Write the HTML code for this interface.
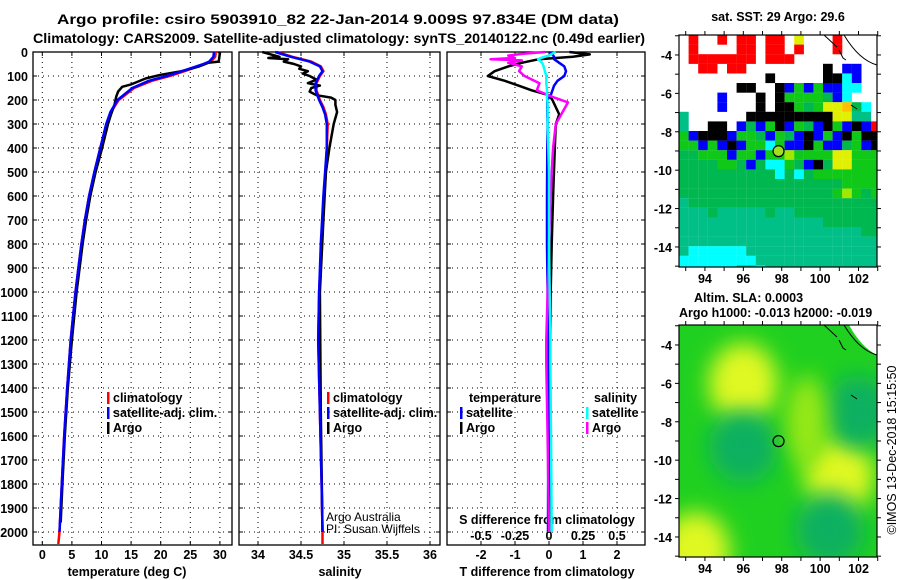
<!DOCTYPE html>
<html><head><meta charset="utf-8"><style>
html,body{margin:0;padding:0;background:#fff;width:900px;height:580px;overflow:hidden}
svg{display:block;font-family:"Liberation Sans",sans-serif}
.b{font-weight:bold;font-size:12.5px}
</style></head><body>
<svg id="c" width="900" height="580" viewBox="0 0 900 580">
<text x="338" y="24" text-anchor="middle" class="b" style="font-size:14px" textLength="562" lengthAdjust="spacingAndGlyphs">Argo profile: csiro 5903910_82 22-Jan-2014 9.009S 97.834E (DM data)</text>
<text x="339" y="43" text-anchor="middle" class="b" style="font-size:14px" textLength="612" lengthAdjust="spacingAndGlyphs">Climatology: CARS2009. Satellite-adjusted climatology: synTS_20140122.nc (0.49d earlier)</text>
<text x="127" y="576" text-anchor="middle" class="b">temperature (deg C)</text>
<text x="340" y="576" text-anchor="middle" class="b">salinity</text>
<text x="547" y="576" text-anchor="middle" class="b">T difference from climatology</text>
<text x="547" y="524" text-anchor="middle" class="b">S difference from climatology</text>
<text x="326" y="521" style="font-size:12px">Argo Australia</text>
<text x="326" y="533" style="font-size:12px">PI: Susan Wijffels</text>
<text x="778" y="21" text-anchor="middle" class="b">sat. SST: 29 Argo: 29.6</text>
<text x="694" y="302" class="b">Altim. SLA: 0.0003</text>
<text x="679" y="317" class="b">Argo h1000: -0.013 h2000: -0.019</text>
<text transform="translate(896,450) rotate(-90)" text-anchor="middle" style="font-size:12.5px">©IMOS 13-Dec-2018 15:15:50</text>
</svg>
<script>
const depthT=[0,20,40,50,60,80,100,120,150,200,250,300,400,500,600,700,800,900,1000,1200,1400,1600,1800,2000,2050];
const climT=[29.3,29.2,28.5,27.5,26.3,24,21.5,18.5,15.5,12.9,11.6,10.9,9.8,8.8,7.9,7.2,6.6,6.1,5.6,4.8,4.2,3.7,3.3,2.9,2.7];
const satT=[29.0,28.9,28.2,27.2,26,23.6,21,18,15.2,12.7,11.5,10.8,9.8,8.8,7.9,7.2,6.6,6.1,5.6,4.8,4.2,3.7,3.3,2.9];
const argoTd=[0,5,40,45,60,80,95,110,125,135,145,165,185,220,260,300,400,500,600,700,800,1000,1200,1400,1600,1800,1960];
const argoT=[29.8,30,29.8,28,26.5,23.5,20,17.5,16,15,13.5,12.8,12.5,12.2,11.6,11.1,10.1,9,8.1,7.4,6.8,5.8,5,4.3,3.8,3.4,3.1];
const depthS=[0,20,40,60,80,100,130,160,200,230,260,300,400,500,600,800,1000,1200,1500,1800,2000,2050];
const climS=[34.22,34.4,34.62,34.73,34.76,34.72,34.68,34.68,34.72,34.76,34.79,34.81,34.8,34.79,34.77,34.74,34.71,34.7,34.72,34.74,34.75,34.75];
const satS=[34.2,34.38,34.6,34.72,34.75,34.71,34.67,34.67,34.71,34.75,34.78,34.8,34.8,34.78,34.76,34.73,34.71,34.7,34.72,34.74,34.75];
const argoSd=[0,10,20,25,30,40,50,60,70,80,90,100,115,130,140,150,165,180,190,200,220,250,300,400,500,700,1000,1500,2000];
const argoS=[34.05,34.15,34.25,34.12,34.35,34.3,34.42,34.5,34.48,34.58,34.52,34.6,34.68,34.58,34.72,34.62,34.6,34.68,34.85,34.9,34.9,34.92,34.88,34.83,34.79,34.76,34.72,34.73,34.75];
const tdD=[0,10,20,30,45,60,80,100,120,140,160,180,200,230,260,300,400,600,800,1000,1500,2000];
const argoTdiff=[0.6,1.2,0.7,-0.3,-0.8,-1.2,-1.6,-1.8,-1.3,-0.9,-0.5,0,0.1,0.2,0.3,0.2,0.17,0.12,0.08,0.05,0.02,0];
const satTdiff=[0,0.1,0.15,0.15,0.3,0.45,0.5,0.45,0.25,0.15,0.1,0.05,-0.05,-0.05,-0.05,-0.04,-0.05,-0.06,-0.06,-0.04,-0.02,-0.03];
const sdD=[0,8,15,25,30,35,45,60,80,100,130,160,190,210,250,300,400,500,800,1200,1300,1600,2000];
const argoSdiff=[-0.03,-0.2,-0.3,-0.25,-0.43,-0.2,-0.3,-0.2,-0.22,-0.18,-0.07,-0.09,0.04,0.14,0.1,0.05,0.03,0.02,0.0,-0.02,-0.02,-0.01,0];
const satSdiff=[0.05,0.02,0,-0.06,-0.08,-0.07,-0.05,-0.04,-0.03,-0.02,-0.02,-0.015,-0.015,-0.01,-0.01,-0.01,-0.005,0,0,0.01,0.01,0.015,0.02];
const depthTicks=[0,100,200,300,400,500,600,700,800,900,1000,1100,1200,1300,1400,1500,1600,1700,1800,1900,2000];
const tempTicks=[0,5,10,15,20,25,30];
const salTicks=[34,34.5,35,35.5,36];
const salTickLabels=["34","34.5","35","35.5","36"];
const tdTicks=[-2,-1,0,1,2];
const sdTicks=[-0.5,-0.25,0,0.25,0.5];
const sstGrid=[
"WRWWRWRRWRRWYWWWRWWWW","WRWWWWRRWRRWRWWWRWWWW","WRRRRRRRWRRRWWWWWWWWW","WWRRWRRWWWWWWWWKWBBWW",
"WWWWWWWWWKWWWWWKKCBWW","WWWWWWKKWWKBGBGBBCCWW","WWWWBWWWKWKGGGGgBCWWW","WWWWBWWWKWKKGgGYYOgCW",
"TWWWWWWKKKKKKKKKYYTTW","TWWKKWBgBGKBGgBKGBKBR","GBKKKBGGgBGgBKBGBKGKK","GGBGBKBGGCGBBKGBBgGBK",
"ggGGGBGGBGGLGGGGYYGGG","ggggGGgBgCCGgBKgYYGGG","ggggggggggCgCgGGGGGGG","gggggggggggggggggGGGG",
"ggggggggggggggggGLGgG","Tgggggggggggggggggggg","TTTgTTTTTgTTggggggggg","TTTTTTTTTTTTTTTgggggg",
"TTTTTTTTTTTTTTTTTTTgg","TTTTTTTTTTTTTTTTTTTTT","TCCCCCCTTTTTTTTTTTTTT","CCCCCCCCTTTTTTTTTTTTT","CCCCCCTTCTTTTTTTTTTTT"];
const lonTicks=[94,96,98,100,102];
const latTicks=[-4,-6,-8,-10,-12,-14];
const floatLon=97.834, floatLat=-9.009;
const slaLon=[96,101,96,102,100.5,93.5,99.3];
const slaLat=[-6,-10.8,-9.3,-7.5,-13.6,-14.8,-8];
const slaKind=["hi","hi","lo","lo","lo","hi","mid"];

const NS="http://www.w3.org/2000/svg", svg=document.getElementById('c');
function el(t,a,p){const e=document.createElementNS(NS,t);for(const k in a)e.setAttribute(k,a[k]);(p||svg).appendChild(e);return e;}
const Y0=52,Y1=545;
const yD=d=>Y0+d*0.24;
const xT=t=>42.3+t*5.92, xS=s=>258+(s-34)*86, xTd=v=>549+v*34, xSd=v=>549+v*136;
function pts(xs,ds,fx){let s=[];for(let i=0;i<xs.length;i++)s.push(fx(xs[i]).toFixed(1)+','+yD(ds[i]).toFixed(1));return s.join(' ');}

const panels=[{x0:33,x1:232,name:'temperature-panel'},{x0:239,x1:440,name:'salinity-panel'},{x0:447,x1:645,name:'difference-panel'}];
panels.forEach((p,pi)=>{
  const g=el('g',{});
  
  
  const xs= pi==0?tempTicks.map(xT): pi==1?salTicks.map(xS): tdTicks.map(xTd);
  xs.forEach(x=>{const l=el('line',{x1:x,x2:x,y1:Y0,y2:Y1,stroke:'#000','stroke-width':1,'stroke-dasharray':'1,4'},g);
    
    
    el('line',{x1:x,x2:x,y1:Y1,y2:Y1-4,stroke:'#000'},g);el('line',{x1:x,x2:x,y1:Y0,y2:Y0+4,stroke:'#000'},g);});
  depthTicks.forEach(d=>{const y=yD(d);if(d>0){const l=el('line',{x1:p.x0,x2:p.x1,y1:y,y2:y,stroke:'#000','stroke-dasharray':'1,4'},g);
    
    }
    el('line',{x1:p.x0,x2:p.x0+4,y1:y,y2:y,stroke:'#000'},g);el('line',{x1:p.x1,x2:p.x1-4,y1:y,y2:y,stroke:'#000'},g);});
  const r=el('rect',{x:p.x0,y:Y0,width:p.x1-p.x0,height:Y1-Y0,fill:'none',stroke:'#000','stroke-width':1.3},g);
  
  
});
depthTicks.forEach(d=>{const t=el('text',{x:28,y:yD(d)+5,'text-anchor':'end',class:'b'});t.textContent=d;
  
  });
tempTicks.forEach(v=>{const t=el('text',{x:xT(v),y:559,'text-anchor':'middle',class:'b'});t.textContent=v;
  
  });
salTicks.forEach((v,i)=>{const t=el('text',{x:xS(v),y:559,'text-anchor':'middle',class:'b'});t.textContent=salTickLabels[i];
  
  });
tdTicks.forEach(v=>{const t=el('text',{x:xTd(v),y:559,'text-anchor':'middle',class:'b'});t.textContent=v;
  
  });
sdTicks.forEach(v=>{const t=el('text',{x:xSd(v),y:540,'text-anchor':'middle',class:'b'});t.textContent=v;
  
  });

function line(x,d,fx,col,name,w){const l=el('polyline',{points:pts(x,d,fx),fill:'none',stroke:col,'stroke-width':w||2.5,'stroke-linejoin':'round'});
  
  }
line(climT,depthT,xT,'#ff0000','temperature-climatology-line');
line(argoT,argoTd,xT,'#000','temperature-argo-line');
line(satT,depthT.slice(0,satT.length),xT,'#0000ff','temperature-satellite-line');
line(climS,depthS,xS,'#ff0000','salinity-climatology-line');
line(argoS,argoSd,xS,'#000','salinity-argo-line');
line(satS,depthS.slice(0,satS.length),xS,'#0000ff','salinity-satellite-line');
line(argoTdiff,tdD,xTd,'#000','t-diff-argo-line');
line(satTdiff,tdD,xTd,'#0000ff','t-diff-satellite-line');
line(argoSdiff,sdD,xSd,'#ff00ff','s-diff-argo-line');
line(satSdiff,sdD,xSd,'#00ffff','s-diff-satellite-line');

function legend(x,y,col,txt,name){if(col){const m=el('rect',{x:x,y:y-10,width:2.5,height:12,fill:col});
  
  }
  const t=el('text',{x:x+6,y:y,class:'b'});t.textContent=txt;
  
  }
legend(107,402,'#ff0000','climatology','legend-climatology');
legend(107,417,'#0000ff','satellite-adj. clim.','legend-satellite-adj');
legend(107,432,'#000','Argo','legend-argo');
legend(327,402,'#ff0000','climatology','legend-sal-climatology');
legend(327,417,'#0000ff','satellite-adj. clim.','legend-sal-satellite-adj');
legend(327,432,'#000','Argo','legend-sal-argo');
legend(463,402,null,'temperature','legend-temperature-heading');
legend(460,417,'#0000ff','satellite','legend-t-satellite');
legend(460,432,'#000','Argo','legend-t-argo');
legend(588,402,null,'salinity','legend-salinity-heading');
legend(586,417,'#00ffff','satellite','legend-s-satellite');
legend(586,432,'#ff00ff','Argo','legend-s-argo');

const MX0=679,MX1=877,PX=19.2;
const colors={W:'#fff',R:'#ff0000',K:'#000',B:'#0000ff',C:'#00ffff',G:'#10c818',g:'#00b850',T:'#00c088',Y:'#e0f000',O:'#ffc000',L:'#a0e800'};
function mapFrame(top){
  const lonX=l=>MX0+(l-92.65)*PX, latY=l=>top+(-2.96-l)*PX;
  return {lonX,latY};
}
function axes(top,bottom,name,lonX,latY){
  const g=el('g',{});
  
  
  el('rect',{x:MX0,y:top,width:MX1-MX0,height:bottom-top,fill:'none',stroke:'#000','stroke-width':1.2},g);
  for(let l=93;l<=103;l++){const x=lonX(l);el('line',{x1:x,x2:x,y1:top,y2:top-4,stroke:'#000'},g);el('line',{x1:x,x2:x,y1:bottom,y2:bottom+4,stroke:'#000'},g);}
  for(let l=-3;l>=-15;l--){const y=latY(l);el('line',{x1:MX0,x2:MX0-4,y1:y,y2:y,stroke:'#000'},g);el('line',{x1:MX1,x2:MX1+4,y1:y,y2:y,stroke:'#000'},g);}
  lonTicks.forEach(v=>{const t=el('text',{x:lonX(v),y:bottom+16,'text-anchor':'middle',class:'b'},g);t.textContent=v;
    
    });
  latTicks.forEach(v=>{const t=el('text',{x:672,y:latY(v)+5,'text-anchor':'end',class:'b'},g);t.textContent=v;
    
    });
  const c=el('circle',{cx:lonX(floatLon),cy:latY(floatLat),r:5.5,fill:'none',stroke:'#000','stroke-width':1.2});
  
  
  const coast=el('path',{d:`M${MX0+145},${top} L${MX0+158},${top+12} M${MX0+165},${top} Q${MX0+180},${top+25} ${MX0+198},${top+30} M${MX0+160},${top+15} l4,8 l3,2 M${MX0+172},${top+70} l6,4`,fill:'none',stroke:'#000','stroke-width':1});
  
  
}
(function(){
  const top=35,bottom=267,{lonX,latY}=mapFrame(top);
  const g=el('g',{});
  
  
  const cp=el('clipPath',{id:'cp1'});el('rect',{x:MX0,y:top,width:MX1-MX0,height:bottom-top},cp);
  g.setAttribute('clip-path','url(#cp1)');
  sstGrid.forEach((row,r)=>{for(let c=0;c<row.length;c++){const ch=row[c];if(ch==='W')continue;
    const cell=el('rect',{x:MX0+c*9.6,y:top+r*9.6,width:9.7,height:9.7,fill:colors[ch]},g);
    
    }});
  const dot=el('circle',{cx:lonX(floatLon),cy:latY(floatLat),r:5,fill:'#a0e020'});
  
  
  axes(top,bottom,'sst-map',lonX,latY);
})();
(function(){
  const top=325,bottom=557,{lonX,latY}=mapFrame(top);
  const defs=el('defs',{});
  const f=el('filter',{id:'bl',x:'-50%',y:'-50%',width:'200%',height:'200%'},defs);el('feGaussianBlur',{stdDeviation:11},f);
  el('clipPath',{id:'cp2'},defs).appendChild(el('rect',{x:MX0,y:top,width:MX1-MX0,height:bottom-top}));
  const g=el('g',{'clip-path':'url(#cp2)'});
  
  
  el('rect',{x:MX0,y:top,width:MX1-MX0,height:bottom-top,fill:'#20d020'},g);
  const kc={hi:'#e0f820',lo:'#10b060',mid:'#98e818'};
  const kr={hi:[1.8,2.1],lo:[1.8,1.9],mid:[1.1,2.4]};
  slaLon.forEach((lo,i)=>{const k=slaKind[i];
    const e=el('ellipse',{cx:lonX(lo),cy:latY(slaLat[i]),rx:kr[k][0]*PX,ry:kr[k][1]*PX,fill:kc[k],filter:'url(#bl)'},g);
    
    });
  el('path',{d:`M${MX0+170},${top} L${MX1},${top} L${MX1},${top+30} Q${MX0+182},${top+22} ${MX0+170},${top}Z`,fill:'#fff'},g);
  axes(top,bottom,'sla-map',lonX,latY);
})();
</script>
</body></html>
